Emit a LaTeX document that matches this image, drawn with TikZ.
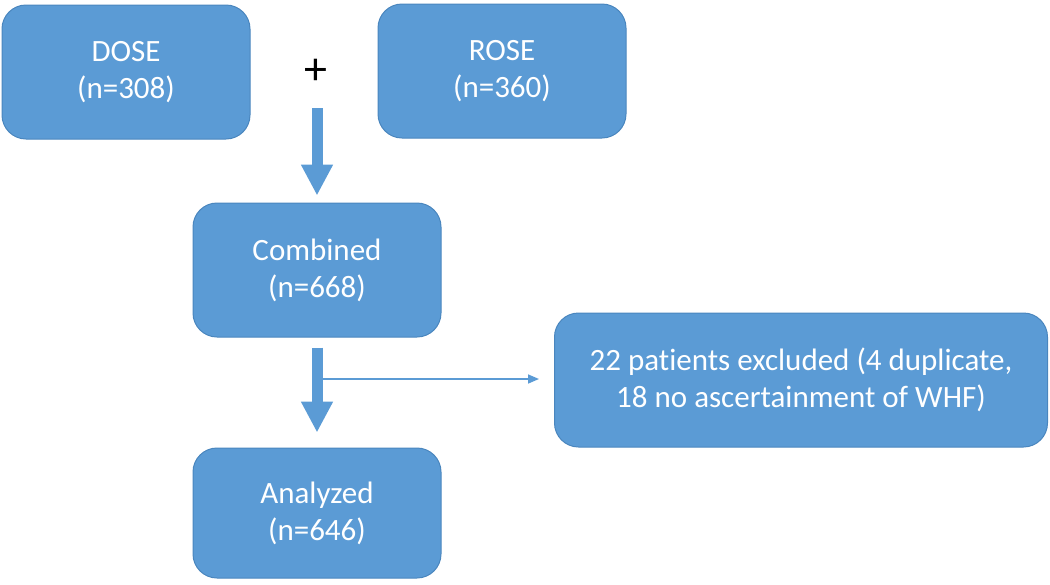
\documentclass[tikz,border=0pt]{standalone}
\usepackage{fontspec}
\setmainfont[Ligatures=NoCommon]{Carlito}
\usetikzlibrary{arrows.meta}
\definecolor{boxblue}{HTML}{5B9BD5}
\definecolor{boxline}{HTML}{4A86BE}

\begin{document}
\begin{tikzpicture}[x=1pt,y=-1pt,
	box/.style={draw=boxline, line width=1pt, fill=boxblue, rounded corners=24pt,
		text=white, align=center, font=\fontsize{31}{37}\selectfont,
		inner sep=0pt, minimum width=248pt, minimum height=134pt},
	bigarrow/.style={draw=boxblue, line width=11pt, -{Triangle[width=30pt,length=31pt]}},
	thinarrow/.style={draw=boxblue, line width=1.6pt, -{Triangle[width=9pt,length=11pt]}}]
	
	\useasboundingbox (0,0) rectangle (1050,584);
	
	\node[box] (dose) at (126,72) {DOSE\\(n=308)};
	\node[box] (rose) at (502,71) {ROSE\\(n=360)};
	\node[box] (comb) at (317,270) {Combined\\(n=668)};
	\node[box, minimum width=493pt] (excl) at (801,380) {22 patients excluded (4 duplicate,\\18 no ascertainment of WHF)};
	\node[box, minimum height=130pt] (anal) at (317,513) {Analyzed\\(n=646)};
	
	\node[font=\fontsize{46}{46}\selectfont] (plus) at (316,72) {+};
	
	\coordinate (top) at (317,108);
	\coordinate (split) at (315,379);
	
	\draw[bigarrow, shorten >=7pt] (top) -- (comb.north);
	\draw[bigarrow, shorten <=10pt, shorten >=15pt] (comb.south) -- (anal.north);
	\draw[thinarrow, shorten >=15pt] (split) -- (excl.west |- split);
	
\end{tikzpicture}
\end{document}
